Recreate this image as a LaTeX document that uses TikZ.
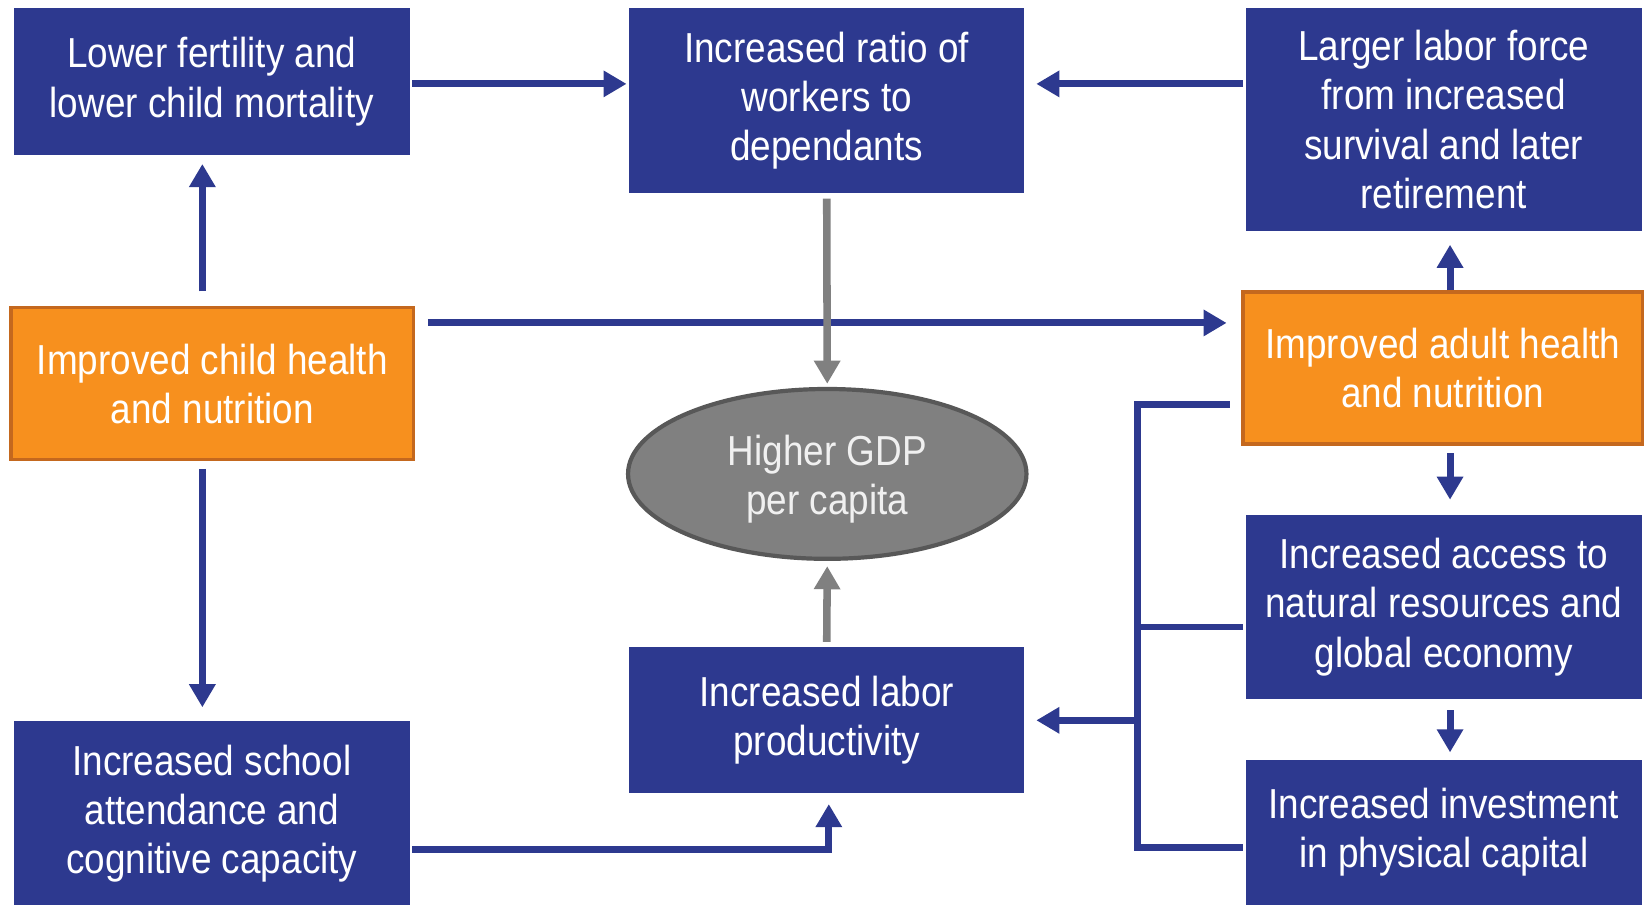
\documentclass[tikz,border=0pt]{standalone}
\usepackage{fontspec}
\setmainfont{Liberation Sans}[FakeStretch=0.88]
\usetikzlibrary{arrows.meta,calc,shapes.geometric}
\definecolor{bblue}{RGB}{45,57,143}
\definecolor{borange}{RGB}{247,144,30}
\definecolor{borangedk}{RGB}{196,104,30}
\definecolor{ggray}{RGB}{128,128,128}
\definecolor{ggraydk}{RGB}{88,88,88}
\tikzset{
  x=0.5pt, y=-0.5pt,
  txt/.style={text=white, align=center, inner sep=0pt, font=\fontsize{20}{23.5}\selectfont},
  bluebox/.style={txt, rectangle, fill=bblue},
  orangebox/.style={txt, rectangle, fill=borange, draw=borangedk, line width=1.6pt},
  gdp/.style={txt, ellipse, fill=ggray, draw=ggraydk, line width=2pt, text=white!94!black},
  barrow/.style={draw=bblue, line width=3.3pt, -{Triangle[length=11pt,width=12pt]}},
  bline/.style={draw=bblue, line width=3.3pt},
  garrow/.style={draw=ggray, line width=3.6pt, -{Triangle[length=11pt,width=12pt]}}
}
\begin{document}
\begin{tikzpicture}
\useasboundingbox[fill=white] (0,0) rectangle (1568,863);
% nodes
\node[bluebox, minimum width=189pt, minimum height=70pt] (A) at (202,78) {Lower fertility and\\lower child mortality};
\node[bluebox, minimum width=188.5pt, minimum height=88pt] (B) at (788.5,96) {Increased ratio of\\workers to\\dependants};
\node[bluebox, minimum width=189pt, minimum height=106pt] (C) at (1377,114) {Larger labor force\\from increased\\survival and later\\retirement};
\node[orangebox, minimum width=192pt, minimum height=72.5pt] (D) at (202.5,366) {Improved child health\\and nutrition};
\node[orangebox, minimum width=190.5pt, minimum height=72.5pt] (E) at (1376,351) {Improved adult health\\and nutrition};
\node[gdp, minimum width=190pt, minimum height=81pt] (GDP) at (789,452) {\raisebox{-3pt}[\height][\depth]{\begin{tabular}{@{}c@{}}Higher GDP\\per capita\end{tabular}}};
\node[bluebox, minimum width=188.5pt, minimum height=69.5pt] (F) at (788.5,687) {Increased labor\\productivity};
\node[bluebox, minimum width=189pt, minimum height=88pt] (G) at (202,776) {Increased school\\attendance and\\cognitive capacity};
\node[bluebox, minimum width=189pt, minimum height=88pt] (H) at (1377,579) {Increased access to\\natural resources and\\global economy};
\node[bluebox, minimum width=189pt, minimum height=69pt] (I) at (1377,794) {Increased investment\\in physical capital};
% blue connectors
\draw[barrow] ($(A.east)+(2,2)$) -- ($(A.east -| B.west)+(-2,2)$);
\draw[barrow] ($(C.west |- A.east)+(-2,2)$) -- ($(B.east |- A.east)+(11,2)$);
\draw[barrow] ($(D.north)+(-9.5,-14)$) -- ($(A.south)+(-9,8)$);
\draw[barrow] ($(D.south)+(-9.5,7)$) -- ($(G.north)+(-9,-13)$);
\draw[barrow] ($(D.east)+(12,-58)$) -- ($(D.east -| E.west)+(-14,-58)$);
\draw[barrow] ($(E.north)+(7,0)$) -- ($(C.south)+(6,13)$);
\draw[barrow] ($(E.south)+(7,7)$) -- ($(H.north)+(6,-14)$);
\draw[barrow] ($(H.south)+(6,10)$) -- ($(I.north)+(6,-7)$);
\draw[barrow] ($(G.east)+(2,34)$) -| ($(F.south)+(2,10)$);
% bracket
\coordinate (brtop) at ($(E.west)+(-11,35)$);
\coordinate (brx) at (1085,0);
\coordinate (brbot) at ($(I.west)+(-2,14)$);
\draw[bline] (brtop) -- (brtop -| brx) -- (brbot -| brx) -- (brbot);
\draw[bline] ($(H.west)+(-2,19)$) -- ($(H.west -| brx)+(0,19)$);
\draw[barrow] (F.east -| brx) -- ($(F.east)+(11,0)$);
% gray connectors
\draw[garrow] ($(B.south)+(0,5)$) -- ($(GDP.north)+(0,-3)$);
\draw[garrow] ($(F.north)+(0,-5)$) -- ($(GDP.south)+(0,5)$);
\end{tikzpicture}
\end{document}
